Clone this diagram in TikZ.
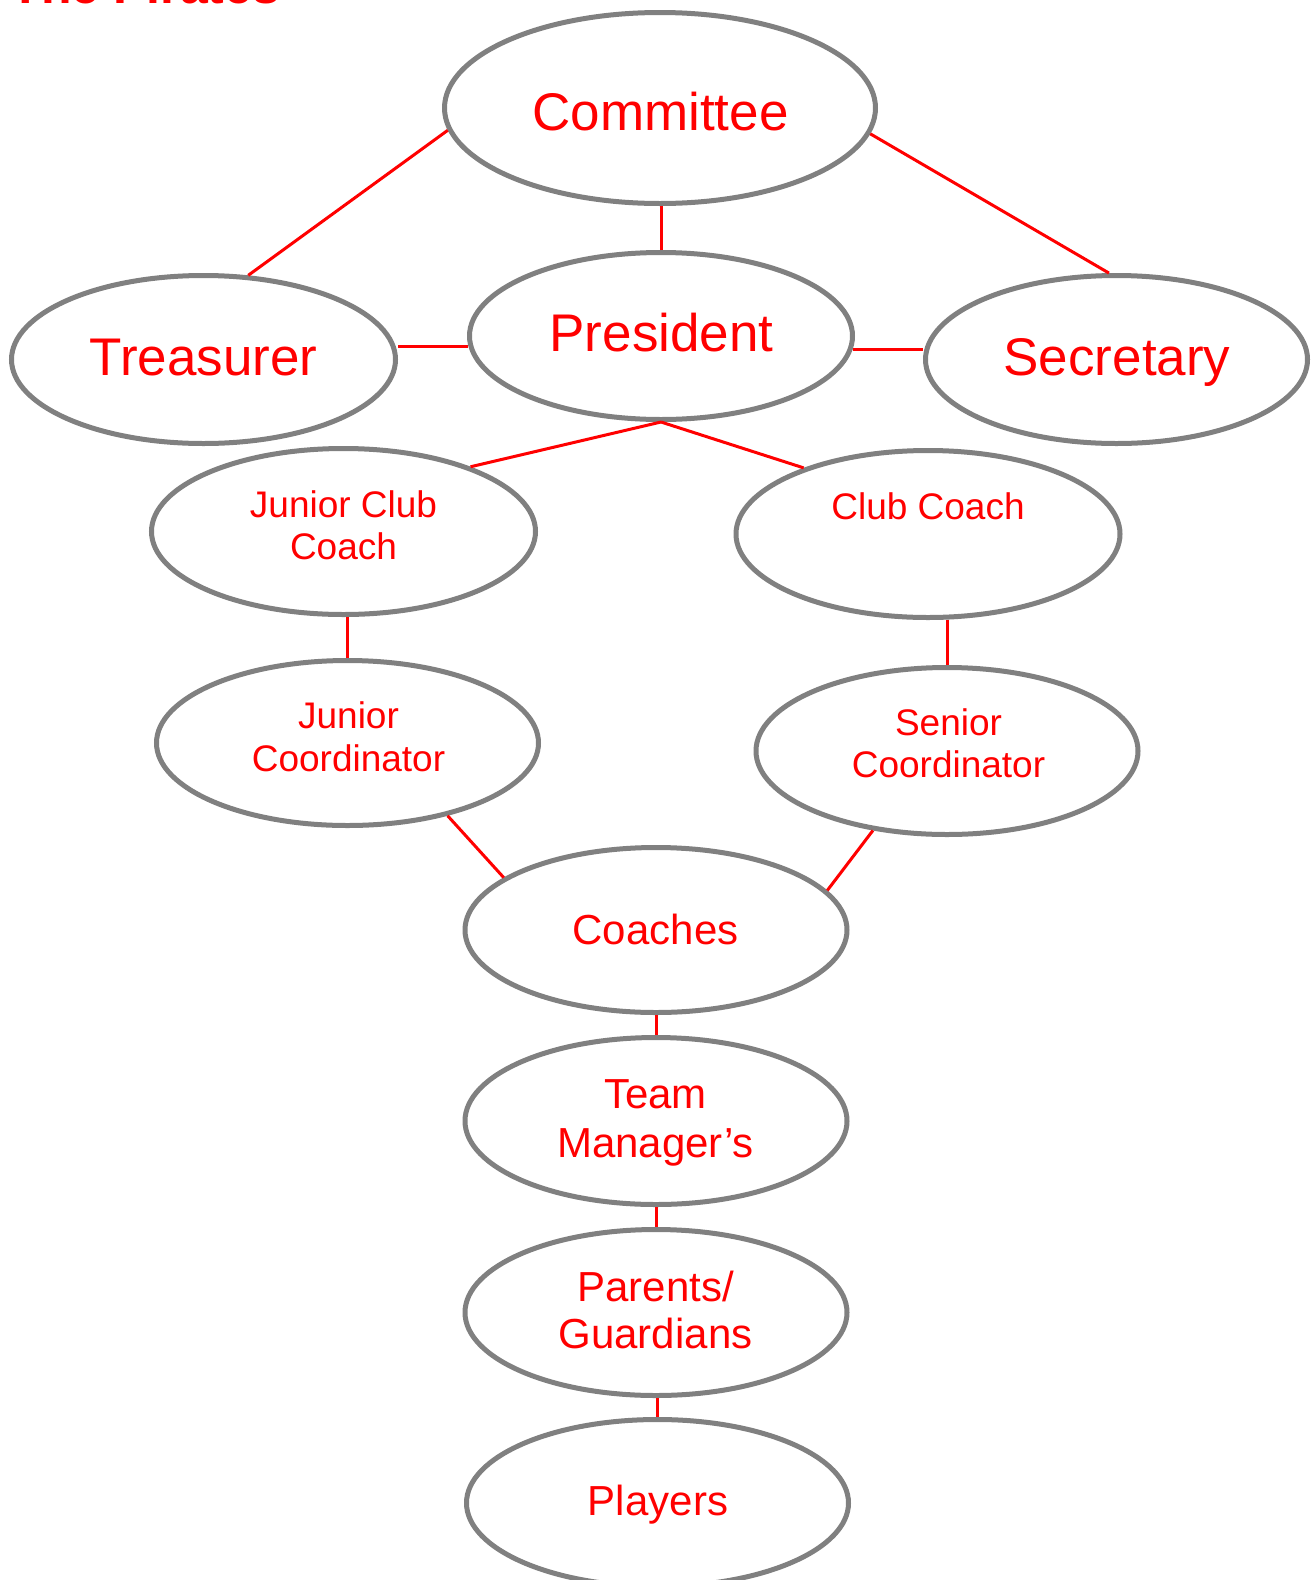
\documentclass[tikz,border=0pt]{standalone}
\usepackage{fontspec}
\setmainfont{Liberation Sans}
\usetikzlibrary{shapes.geometric}
\definecolor{ellgray}{HTML}{808080}
\definecolor{txtred}{HTML}{FF0000}
\tikzset{
  ell/.style={ellipse, draw=ellgray, line width=5pt, inner sep=0pt},
  conn/.style={draw=txtred, line width=3pt},
  bigt/.style={text=txtred, anchor=base, inner sep=0pt, font=\fontsize{53}{60}\selectfont},
  midt/.style={text=txtred, anchor=base, inner sep=0pt, font=\fontsize{42}{48}\selectfont},
  smallt/.style={text=txtred, anchor=base, inner sep=0pt, font=\fontsize{37}{43}\selectfont},
  titlet/.style={text=txtred, anchor=base west, inner sep=0pt, font=\fontsize{50}{56}\selectfont\bfseries}
}
\begin{document}
\begin{tikzpicture}[x=1pt,y=-1pt]
\useasboundingbox (0,0) rectangle (1314,1580);
\clip (0,0) rectangle (1314,1580);
\fill[white] (0,0) rectangle (1314,1580);

% title (cut off at the top edge, as in the reference)
\node[titlet] (title) at (10.5,3.5) {The Pirates};

% ellipses
\node[ell, minimum width=431pt, minimum height=191pt] (com) at (660,108) {};
\node[ell, minimum width=384pt, minimum height=168pt] (tre) at (203.5,359.5) {};
\node[ell, minimum width=383pt, minimum height=167pt] (pre) at (661,336) {};
\node[ell, minimum width=382pt, minimum height=168pt] (sec) at (1116.5,359.5) {};
\node[ell, minimum width=384pt, minimum height=166pt] (jcc) at (343.5,531.5) {};
\node[ell, minimum width=384pt, minimum height=167pt] (cc) at (928,534) {};
\node[ell, minimum width=382pt, minimum height=165pt] (jc) at (347.5,743) {};
\node[ell, minimum width=382pt, minimum height=167pt] (sc) at (947,751) {};
\node[ell, minimum width=382pt, minimum height=165pt] (coa) at (656,930) {};
\node[ell, minimum width=382pt, minimum height=167pt] (tm) at (656,1121) {};
\node[ell, minimum width=382pt, minimum height=166pt] (par) at (656,1312.5) {};
\node[ell, minimum width=382pt, minimum height=167pt] (pla) at (657.5,1503) {};

% texts
\node[bigt] (comt) at (660.5,130) {Committee};
\node[bigt] (tret) at (203.5,375) {Treasurer};
\node[bigt] (pret) at (661.5,351) {President};
\node[bigt] (sect) at (1117,375) {Secretary};
\node[smallt] (jcct1) at (343.5,517) {Junior Club};
\node[smallt] (jcct2) at (343.5,559) {Coach};
\node[smallt] (cct) at (928,519) {Club Coach};
\node[smallt] (jct1) at (348.5,728) {Junior};
\node[smallt] (jct2) at (348.5,771) {Coordinator};
\node[smallt] (sct1) at (948.5,735) {Senior};
\node[smallt] (sct2) at (948.5,777) {Coordinator};
\node[midt] (coat) at (655.5,944) {Coaches};
\node[midt] (tmt1) at (655.5,1108) {Team};
\node[midt] (tmt2) at (655.5,1157) {Manager’s};
\node[midt] (part1) at (655.5,1301) {Parents/};
\node[midt] (part2) at (655.5,1348) {Guardians};
\node[midt] (plat) at (658,1515) {Players};

% connectors
\draw[conn] (com.186.7) -- (tre.62.8);
\draw[conn] (com.353.4) -- (sec.95.8);
\draw[conn] (pre.north) -- (pre.north |- com.south);
\draw[conn] (pre.183.5) -- (pre.183.5 -| tre.east);
\draw[conn] (pre.356.5) -- (pre.356.5 -| sec.west);
\draw[conn] (pre.south) -- (jcc.27.4);
\draw[conn] (pre.south) -- (cc.152.2);
\draw[conn] (jc.north) -- (jc.north |- jcc.south);
\draw[conn] (sc.north) -- (sc.north |- cc.south);
\draw[conn] (jc.324.4) -- (coa.161.5);
\draw[conn] (sc.227.3) -- (coa.13.8);
\draw[conn] (coa.south) -- (tm.north);
\draw[conn] (tm.south) -- (par.north);
\draw[conn] (pla.north) -- (pla.north |- par.south);
\end{tikzpicture}
\end{document}
